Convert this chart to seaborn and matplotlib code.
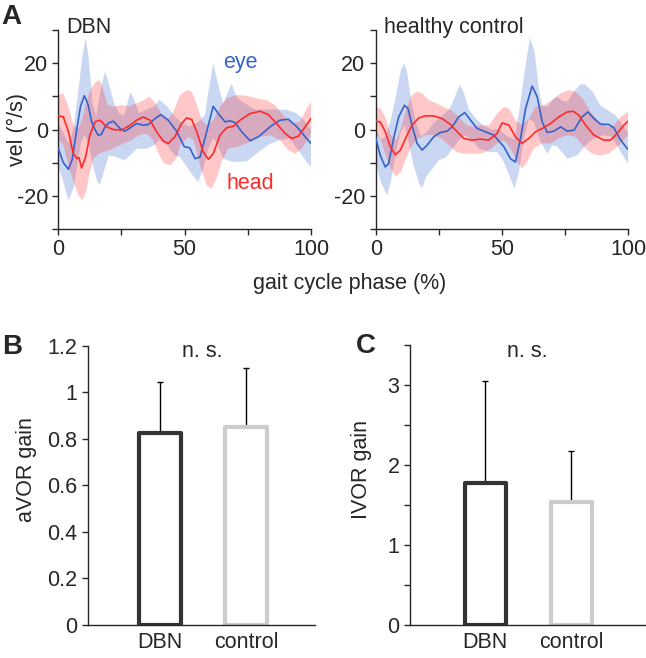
import numpy as np
import pandas as pd
import matplotlib
matplotlib.use("Agg")
import matplotlib.pyplot as plt
import seaborn as sns

# ---------------- data: panel A, DBN ----------------
dbn_eye_x = [0, 2, 4, 5.5, 7.3, 8.8, 10.3, 11.8, 13.2, 14.5, 15.8, 17, 18.5, 20, 21.8, 24.4, 26.4, 29, 31, 33.6, 35.6,
             38.3, 40.6, 43.5, 46.8, 49.9, 52, 54.1, 56.1, 58.7, 61.3, 63.3, 66, 68, 69.9, 72.6, 75.9, 79.2, 83.8, 87.7,
             91, 94.4, 97.7, 100]
dbn_eye_y = [-5.7, -10, -12, -9, 0, 7, 10.2, 7.5, 2.3, 0, -1.7, -1.5, 0.8, 2, 2.5, 0.3, -0.5, 0.8, 1.8, 1.3, 1.5,
             3.3, 4.5, 2.8, -0.5, -5.2, -5.5, -8.8, -8.3, -0.7, 7.0, 4.8, 2.3, 2.6, 2.1, -0.7, -3.4, -2.2, 0.8, 2.8,
             3.1, 0.8, -2.2, -4.2]
dbn_head_x = [0, 2, 4, 5.9, 7.3, 8.2, 9.2, 10.8, 12.5, 14.5, 16.5, 19.1, 21.8, 25, 28.4, 31, 33.6, 36.3, 38.9, 41.6,
              43.5, 46.1, 48.8, 50.8, 52.8, 54.8, 57.4, 59.4, 61.3, 64, 66.6, 69.3, 71.9, 75.9, 79.8, 83.1, 86.4,
              89.7, 92.4, 95, 97.7, 100]
dbn_head_y = [4.1, 3.8, -0.7, -7.2, -8.7, -8.5, -11.6, -8.3, -1.7, 2.3, 2.8, 0.8, 0, -0.2, 1.3, 2.8, 3.8, 2.8, -0.7,
              -3.5, -4.2, -2.2, 1.8, 3.5, 3.0, -0.7, -6.8, -9.0, -7.3, -1.7, 0.5, 1.0, 2.8, 4.8, 5.5, 4.5, 1.8,
              -1.2, -2.7, -2.0, 0.8, 3.3]
dbn_eye_hi_x = [0, 2, 4, 6, 8, 9.5, 10.8, 12, 13.5, 15, 17, 18.5, 20, 22, 24, 26, 28.5, 30, 32, 35, 38, 40, 43, 46,
                49, 52, 55, 58, 59.4, 61.3, 64, 65.3, 68.6, 70.5, 72.6, 78, 85, 90, 94, 97, 100]
dbn_eye_hi_y = [2, -1, -4, 0, 12, 22, 27.5, 22, 8, 4, 13, 17.4, 14, 8, 5, 4, 11.4, 9, 5, 6, 7, 9, 7, 4,
                2, 1, 2, 4.3, 11.4, 19.9, 11.4, 7.8, 13.9, 9.9, 8.4, 6, 6, 6, 5, 3, 0]
dbn_eye_lo_x = [0, 2, 4, 6, 7.5, 9, 10.5, 12, 14, 15.5, 16.5, 18, 20, 23, 26, 28.5, 31, 35, 38, 40, 43, 46, 48.2,
                54.1, 55.4, 57.4, 59.4, 61.3, 63, 65.3, 69.3, 74.6, 79.2, 83.8, 87.7, 91.7, 94.4, 98.3, 100]
dbn_eye_lo_y = [-11, -15.8, -21.4, -17.8, -11, -3.7, -1.7, -4.7, -11.8, -15.8, -16.6, -12.8, -7.8, -8.3, -9.3, -7.8,
                -5.8, -5.8, -4.7, -3.2, -4.7, -7.8, -8.3, -14.8, -15.8, -11.8, -5.7, -2.7, -4.5, -8.8, -9.8, -9.6,
                -6.8, -4.3, -3.2, -2.7, -5.7, -9.8, -11.3]
dbn_head_hi_x = [0, 2, 4, 6, 8, 9.5, 11, 13, 15, 16.5, 18, 19.5, 22, 25, 28, 31, 34, 36, 38.5, 41, 43, 45.5, 48.2,
                 50.8, 52.8, 54.8, 56.8, 58.7, 61.3, 64, 66.6, 70.5, 74.5, 78.5, 82.4, 85.7, 89, 92.4, 95.6, 98.3, 100]
dbn_head_hi_y = [10.4, 10.9, 6.9, 1.3, 0.3, 3.3, 8.3, 12.4, 14.4, 14.9, 11.4, 7.4, 6.9, 7.4, 7.0, 7.9, 8.9, 9.9, 7.9,
                 4.3, 2.8, 5.3, 10.4, 11.9, 11.4, 7.4, 2.8, 1.3, 2.8, 6.8, 9.4, 10.4, 10.2, 9.4, 8.9, 7.4, 4.3, 1.8,
                 2.3, 6.3, 8.3]
dbn_head_lo_x = [0, 2, 4, 6, 8, 9.5, 11, 12.5, 14, 16, 18, 20, 23, 26, 29, 32, 35, 37.5, 40, 42, 44.5, 47, 48.2,
                 51.5, 53.5, 56.1, 58.7, 60.7, 62.6, 64.6, 67.3, 71.2, 75.9, 79.8, 83.8, 87.7, 91, 93.7, 96.4, 99, 100]
dbn_head_lo_y = [-2.7, -4.7, -10.8, -15.8, -19.8, -21.4, -18.8, -12.8, -8.8, -7.3, -6.8, -6.3, -5.2, -4.2, -3.2, -1.7,
                 -1.2, -3.2, -7.8, -10.3, -10.8, -8.3, -4.7, -2.2, -3.2, -10.8, -16.8, -17.8, -14.8, -9.8, -5.7,
                 -5.2, -3.7, -2.2, -1.7, -3.2, -6.2, -7.3, -5.7, -2.7, -1.2]

# ---------------- data: panel A, healthy control ----------------
hc_eye_x = [0, 1.8, 3.8, 5.1, 7.1, 9.1, 11.4, 12.8, 14.4, 16.4, 18.4, 20.4, 23, 25.6, 28.3, 30.3, 32.9, 35.3, 37.6,
            40.2, 43.5, 46.8, 50.8, 53.4, 55.4, 57.4, 59.4, 62, 64, 66, 68, 70.6, 73.3, 75.9, 78.6, 81.8, 84.1, 86.5,
            89.1, 92.4, 94.4, 97.1, 100]
hc_eye_y = [-2.5, -7.8, -11.3, -10.3, -2.7, 3.8, 7.3, 6.3, 1.3, -4.2, -6.2, -4.7, -2.2, -0.9, -0.5, 0.8, 3.8, 5.1, 2.8,
            0.3, -0.7, -1.7, -5.2, -8.8, -9.8, -2.7, 6.3, 13.1, 9.9, 2.3, -0.9, -0.5, 0.8, -0.5, -0.2, 3.8, 5.3, 3.3,
            1.6, 1.5, 0.5, -3.2, -6.0]
hc_head_x = [0, 1.8, 3.8, 5.8, 7.8, 9.8, 11.8, 14.4, 17.1, 19.7, 23, 26.3, 29.6, 32.3, 34.9, 38.2, 41.5, 44.8, 48.1,
             50.1, 52.8, 55.4, 58, 60.7, 63.3, 66, 69.3, 72.6, 75.9, 78.3, 80.5, 83.2, 86.5, 90.4, 93.1, 95.7, 98.4,
             100]
hc_head_y = [2.5, 2.3, -0.7, -5.2, -7.6, -6.2, -2.7, 1.3, 3.5, 4.1, 4.1, 3.3, 1.5, -0.7, -2.7, -3.2, -2.9, -3.2, -1.2,
             2.0, 1.3, -2.2, -4.2, -2.7, -0.7, 0.3, 1.8, 3.8, 5.3, 5.5, 4.3, 1.3, -1.7, -3.2, -3.2, -1.2, 1.3, 2.5]
hc_eye_hi_x = [0, 2, 4, 6, 8, 10, 11.3, 12.5, 14, 16, 18, 20, 23, 26, 29, 31, 33.3, 35, 37, 40, 43, 46, 49, 52, 55,
               57, 59.4, 61.2, 63, 64.8, 66, 68, 70, 72, 74, 76, 78.5, 81, 83, 86, 89, 92, 95, 98, 100]
hc_eye_hi_y = [0, -3, -2, 3, 10, 18, 20, 17, 9, 2, -2, -1, 2, 4, 6, 9, 13.5, 11, 6, 3, 1, 0, 0, -2, -3,
               6.3, 19.4, 27.7, 23.4, 11.4, 7.3, 6.8, 8.9, 9.9, 8.6, 8.4, 11.4, 13.6, 13.6, 11.4, 7.3, 5.8, 4.3, 1.3,
               -1]
hc_eye_lo_x = [0, 2, 4.5, 6, 8, 10, 11.5, 13, 15, 17.5, 18.5, 20, 22.5, 25, 28, 30.5, 33, 35.5, 38, 41, 45, 48.1,
               50.8, 53.4, 55, 56.8, 58.7, 60.7, 62.7, 65.3, 68, 70, 72, 75.9, 79.9, 83.2, 86.5, 90.4, 93.7, 97.1,
               100]
hc_eye_lo_y = [-10, -15.8, -19.9, -15.8, -6.8, -0.7, 1.3, -3.7, -10.8, -16.8, -17.6, -14.3, -11.8, -9.3, -8.3, -5.7,
               -3.2, -1.7, -3.2, -5.7, -6.8, -6.8, -9.8, -14.8, -17.8, -12.8, -2.7, 3.3, 2.3, -3.7, -7.3, -4.7,
               -5.2, -8.8, -7.8, -4.7, -2.7, -1.7, -2.2, -6.8, -10.3]
hc_head_hi_x = [0, 2, 4, 6, 8, 10, 12, 14, 16, 18.5, 21, 24, 27, 30, 33, 36, 39, 42, 45, 48.1, 50.8, 52.8, 55.4,
                58, 60.7, 63.3, 66.6, 70, 73.3, 76.6, 79.2, 81.9, 85.2, 88.5, 91.7, 94.4, 97.1, 100]
hc_head_hi_y = [6.8, 6.3, 3.3, -1.7, -3.2, 0.3, 5.8, 9.9, 11.4, 10.9, 8.9, 7.9, 6.8, 5.8, 3.8, 1.3, 0.8, 1.3, 1.3,
                4.8, 6.8, 6.3, 2.8, 1.3, 3.3, 6.8, 7.3, 8.9, 10.9, 11.9, 11.4, 9.4, 5.3, 2.3, 0.8, 1.3, 3.8, 5.3]
hc_head_lo_x = [0, 2, 4, 6, 8, 10, 12, 14.5, 17, 20, 23, 26, 29, 32, 35, 38, 42, 45, 48.1, 50.8, 53.4, 56.1, 58,
                60, 62.7, 66, 69.3, 72.6, 75.9, 79.2, 82.5, 85.8, 89.1, 92.4, 95.7, 98.4, 100]
hc_head_lo_y = [-1.2, -3.2, -7.8, -11.8, -14.3, -12.8, -8.8, -4.7, -2.7, -1.7, -1.7, -2.7, -4.7, -6.8, -7.3, -7.3,
                -7.3, -6.2, -4.2, -3.2, -5.7, -9.8, -11.8, -9.8, -5.7, -4.2, -4.2, -2.7, -1.7, -2.2, -5.2, -7.3,
                -7.8, -7.3, -5.2, -3.2, -1.7]

# ---------------- data: panels B, C ----------------
groups = ["DBN", "control"]
avor_mean = [0.824, 0.852]
avor_upper = [1.046, 1.105]
lvor_mean = [1.776, 1.538]
lvor_upper = [3.05, 2.18]

top_xticks = [0, 25, 50, 75, 100]
top_xticklabels = ["0", "", "50", "", "100"]
top_yticks = [-30, -20, -10, 0, 10, 20, 30]
top_yticklabels = ["", "-20", "", "0", "", "20", ""]
b_yticks = [0, 0.2, 0.4, 0.6, 0.8, 1.0, 1.2]
b_yticklabels = ["0", "0.2", "0.4", "0.6", "0.8", "1", "1.2"]
c_yticks = [0, 0.5, 1, 1.5, 2, 2.5, 3, 3.5]
c_yticklabels = ["0", "", "1", "", "2", "", "3", ""]

# ---------------- style ----------------
sns.set_style("ticks")
plt.rcParams["font.family"] = ["Liberation Sans", "DejaVu Sans"]
plt.rcParams["axes.linewidth"] = 1.0
plt.rcParams["xtick.major.width"] = 1.0
plt.rcParams["ytick.major.width"] = 1.0
plt.rcParams["xtick.major.size"] = 4
plt.rcParams["ytick.major.size"] = 4

EYE = "#3563c9"
HEAD = "#ff2a2a"
EYE_BAND = "#2f62d0"
HEAD_BAND = "#ff3333"
FS = 15.5

W, H = 646, 658
fig = plt.figure(figsize=(W / 100, H / 100), dpi=100)


def ax_px(x0, x1, ytop, ybot):
    return fig.add_axes([x0 / W, 1 - ybot / H, (x1 - x0) / W, (ybot - ytop) / H])


def band(ax, xh, yh, xl, yl, color, alpha):
    px = np.concatenate([np.asarray(xh, float), np.asarray(xl, float)[::-1]])
    py = np.concatenate([np.asarray(yh, float), np.asarray(yl, float)[::-1]])
    ax.fill(px, py, color=color, alpha=alpha, lw=0, zorder=1)


def top_panel(ax, d, title):
    band(ax, d["eh_x"], d["eh_y"], d["el_x"], d["el_y"], EYE_BAND, 0.25)
    band(ax, d["hh_x"], d["hh_y"], d["hl_x"], d["hl_y"], HEAD_BAND, 0.27)
    sns.lineplot(x=d["e_x"], y=d["e_y"], ax=ax, color=EYE, lw=1.2, zorder=3)
    sns.lineplot(x=d["h_x"], y=d["h_y"], ax=ax, color=HEAD, lw=1.2, zorder=4)
    ax.set_xlim(0, 100)
    ax.set_ylim(-30, 30)
    ax.set_xticks(top_xticks)
    ax.set_xticklabels(top_xticklabels, fontsize=FS)
    ax.set_yticks(top_yticks)
    ax.set_yticklabels(top_yticklabels, fontsize=FS)
    ax.set_xlabel("")
    ax.set_ylabel("")
    for s in ["top", "right"]:
        ax.spines[s].set_visible(False)
    ax.text(0.033, 1.015, title, transform=ax.transAxes, fontsize=FS, ha="left", va="center")


axA1 = ax_px(58.3, 311, 30, 229)
axA2 = ax_px(375.7, 628, 30, 229)

top_panel(axA1, dict(e_x=dbn_eye_x, e_y=dbn_eye_y, h_x=dbn_head_x, h_y=dbn_head_y,
                     eh_x=dbn_eye_hi_x, eh_y=dbn_eye_hi_y, el_x=dbn_eye_lo_x, el_y=dbn_eye_lo_y,
                     hh_x=dbn_head_hi_x, hh_y=dbn_head_hi_y, hl_x=dbn_head_lo_x, hl_y=dbn_head_lo_y), "DBN")
top_panel(axA2, dict(e_x=hc_eye_x, e_y=hc_eye_y, h_x=hc_head_x, h_y=hc_head_y,
                     eh_x=hc_eye_hi_x, eh_y=hc_eye_hi_y, el_x=hc_eye_lo_x, el_y=hc_eye_lo_y,
                     hh_x=hc_head_hi_x, hh_y=hc_head_hi_y, hl_x=hc_head_lo_x, hl_y=hc_head_lo_y),
          "healthy control")

axA1.set_ylabel("vel (°/s)", fontsize=FS)
axA1.yaxis.set_label_coords(-0.12, 0.5)
axA1.text(71.9, 20.3, "eye", color=EYE, fontsize=FS, ha="center", va="center")
axA1.text(75.9, -16.3, "head", color=HEAD, fontsize=FS, ha="center", va="center")
fig.text(350 / W, 1 - 283 / H, "gait cycle phase (%)", fontsize=FS, ha="center", va="center")


def bar_panel(ax, means, uppers, yticks, yticklabels, ylim, xlim, ylabel, label_xy, ns_y):
    df = pd.DataFrame({"group": groups, "value": means})
    sns.barplot(data=df, x="group", y="value", ax=ax, width=0.48, color="white",
                linewidth=3.0, errorbar=None, zorder=2)
    for patch, ec in zip(ax.patches, ["#333333", "#cccccc"]):
        patch.set_edgecolor(ec)
        patch.set_facecolor("white")
        patch.set_joinstyle("round")
    err = [u - m for u, m in zip(uppers, means)]
    ax.errorbar(x=[0, 1], y=means, yerr=[[0, 0], err], fmt="none", ecolor="black",
                elinewidth=1.0, capsize=2.5, capthick=1.0, zorder=1)
    ax.set_ylim(*ylim)
    ax.set_xlim(*xlim)
    ax.set_yticks(yticks)
    ax.set_yticklabels(yticklabels, fontsize=FS)
    ax.tick_params(axis="x", length=0, pad=5, labelsize=FS)
    ax.set_xlabel("")
    ax.set_ylabel(ylabel, fontsize=FS)
    ax.yaxis.set_label_coords(*label_xy)
    for s in ["top", "right"]:
        ax.spines[s].set_visible(False)
    ax.text(0.49, ns_y, "n. s.", fontsize=FS, ha="center", va="center")


axB = ax_px(88, 315, 345.7, 625)
axC = ax_px(410, 645, 345, 625)
bar_panel(axB, avor_mean, avor_upper, b_yticks, b_yticklabels, (0, 1.2), (-0.837, 1.80),
          "aVOR gain", (-0.225, 0.555), 1.174)
bar_panel(axC, lvor_mean, lvor_upper, c_yticks, c_yticklabels, (0, 3.5), (-0.876, 1.857),
          "IVOR gain", (-0.16, 0.557), 3.42)

fig.text(11 / W, 1 - 17 / H, "A", fontsize=20, fontweight="bold", ha="center", va="center")
fig.text(12 / W, 1 - 347 / H, "B", fontsize=20, fontweight="bold", ha="center", va="center")
fig.text(366 / W, 1 - 346 / H, "C", fontsize=20, fontweight="bold", ha="center", va="center")

fig.savefig("out.png", dpi=100)
